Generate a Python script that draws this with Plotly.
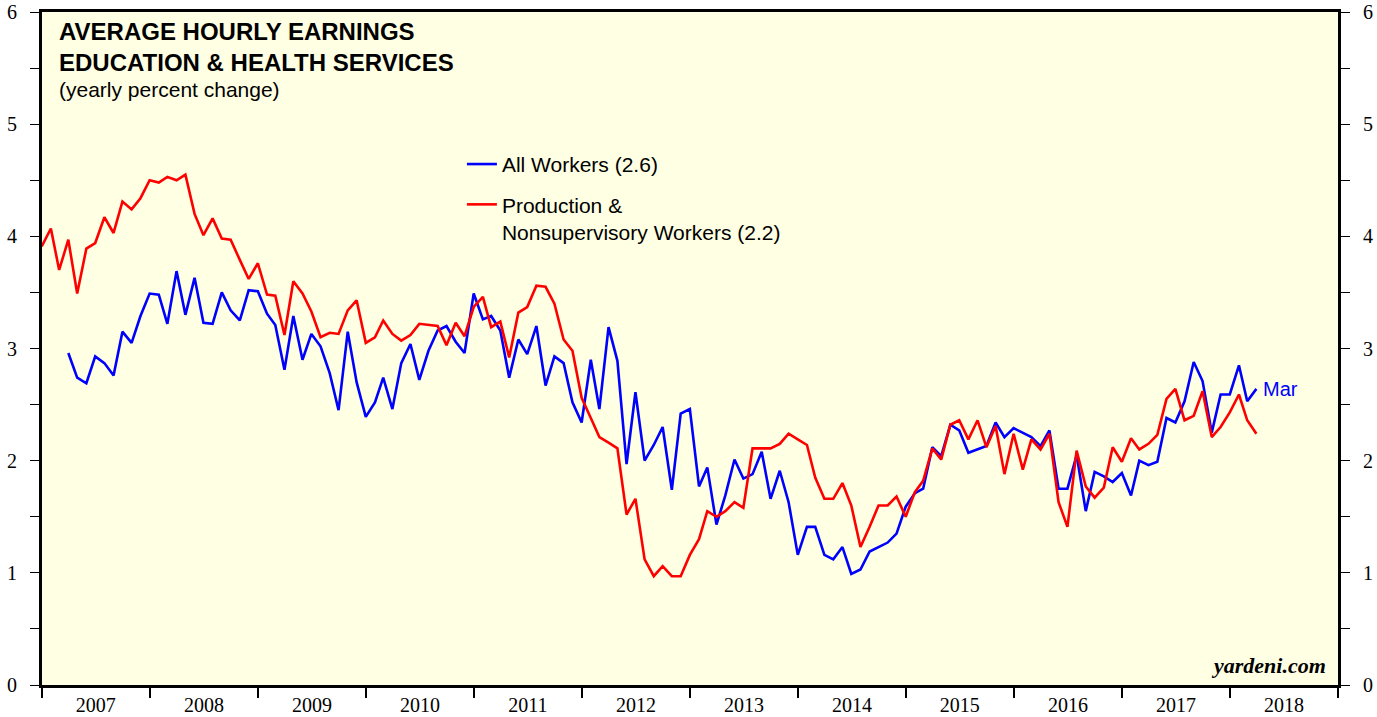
import pandas as pd
import plotly.graph_objects as go

# Monthly yearly-percent-change values
# Production & Nonsupervisory Workers: Dec 2006 .. Mar 2018
prod_workers = [
    3.91,
    4.07, 3.70, 3.97, 3.49, 3.89, 3.94, 4.17, 4.03, 4.31, 4.24, 4.34, 4.50,
    4.48, 4.53, 4.50, 4.55, 4.20, 4.01, 4.16, 3.98, 3.97, 3.79, 3.62, 3.76,
    3.48, 3.47, 3.12, 3.60, 3.49, 3.33, 3.10, 3.14, 3.13, 3.34, 3.43, 3.05,
    3.10, 3.25, 3.13, 3.07, 3.12, 3.22, 3.21, 3.20, 3.03, 3.23, 3.11, 3.37,
    3.46, 3.19, 3.24, 2.92, 3.32, 3.37, 3.56, 3.55, 3.40, 3.08, 2.98, 2.56,
    2.38, 2.21, 2.16, 2.11, 1.52, 1.66, 1.12, 0.97, 1.06, 0.97, 0.97, 1.16,
    1.30, 1.55, 1.50, 1.55, 1.63, 1.58, 2.11, 2.11, 2.11, 2.15, 2.24, 2.19,
    2.14, 1.85, 1.66, 1.66, 1.80, 1.60, 1.23, 1.41, 1.60, 1.60, 1.68, 1.50,
    1.72, 1.82, 2.11, 2.01, 2.32, 2.36, 2.19, 2.36, 2.12, 2.31, 1.88, 2.24,
    1.92, 2.19, 2.10, 2.24, 1.63, 1.41, 2.09, 1.77, 1.67, 1.76, 2.12, 1.99,
    2.20, 2.10, 2.15, 2.23, 2.55, 2.64, 2.36, 2.40, 2.62, 2.21, 2.30, 2.43,
    2.59, 2.36, 2.24,
]
prod_start = "2006-12"

# All Workers: Mar 2007 .. Mar 2018
all_workers = [
    2.96, 2.74, 2.69, 2.93, 2.87, 2.76, 3.15, 3.05, 3.29, 3.49,
    3.48, 3.22, 3.69, 3.30, 3.63, 3.23, 3.22, 3.50, 3.34, 3.25, 3.52, 3.51,
    3.31, 3.21, 2.81, 3.29, 2.90, 3.13, 3.02, 2.78, 2.45, 3.15, 2.70, 2.39,
    2.52, 2.74, 2.46, 2.87, 3.04, 2.72, 2.98, 3.16, 3.20, 3.06, 2.96, 3.49,
    3.26, 3.29, 3.16, 2.74, 3.08, 2.95, 3.20, 2.67, 2.93, 2.87, 2.52, 2.34,
    2.90, 2.46, 3.19, 2.89, 1.97, 2.61, 2.00, 2.14, 2.30, 1.74, 2.42, 2.46,
    1.77, 1.94, 1.43, 1.69, 2.01, 1.84, 1.88, 2.08, 1.66, 1.91, 1.63, 1.16,
    1.41, 1.41, 1.16, 1.12, 1.23, 0.99, 1.03, 1.19, 1.23, 1.27, 1.35, 1.59,
    1.71, 1.75, 2.12, 2.04, 2.32, 2.27, 2.07, 2.10, 2.13, 2.34, 2.21, 2.29,
    2.25, 2.21, 2.13, 2.27, 1.75, 1.75, 2.05, 1.55, 1.90, 1.86, 1.81, 1.89,
    1.69, 2.00, 1.96, 1.99, 2.38, 2.34, 2.53, 2.88, 2.71, 2.25, 2.59, 2.59,
    2.85, 2.53, 2.64,
]
all_start = "2007-03"

years = list(range(2007, 2019))
y_tick_vals = [0, 0.5, 1, 1.5, 2, 2.5, 3, 3.5, 4, 4.5, 5, 5.5, 6]
y_tick_text = ["0", "", "1", "", "2", "", "3", "", "4", "", "5", "", "6"]
last_month_label = "Mar"

# monthly observations plotted at month end
prod_dates = pd.date_range(pd.Period(prod_start, "M").end_time.normalize(), periods=len(prod_workers), freq="ME")
all_dates = pd.date_range(pd.Period(all_start, "M").end_time.normalize(), periods=len(all_workers), freq="ME")
year_starts = [f"{y}-01-01" for y in years] + [f"{years[-1] + 1}-01-01"]
year_mids = [f"{y}-07-02" for y in years]
x_range = [year_starts[0], year_starts[-1]]

BLUE = "#0000FF"
RED = "#FF0000"
SANS = "Liberation Sans, Arial, Helvetica, sans-serif"
SERIF = "Liberation Serif, Times New Roman, serif"

fig = go.Figure()
fig.add_trace(go.Scatter(
    x=all_dates, y=all_workers, mode="lines",
    name=f"All Workers ({all_workers[-1]:.1f})",
    line=dict(color=BLUE, width=2.6), legendgroup="a",
))
fig.add_trace(go.Scatter(
    x=prod_dates, y=prod_workers, mode="lines", xaxis="x2", yaxis="y2",
    name=f"Production &<br>Nonsupervisory Workers ({prod_workers[-1]:.1f})",
    line=dict(color=RED, width=2.6), legendgroup="b",
))

axis_common = dict(
    range=[0, 6], tickmode="array", tickvals=y_tick_vals, ticktext=y_tick_text,
    ticks="outside", ticklen=9, tickwidth=1.2, tickcolor="black",
    showgrid=False, zeroline=False, showline=True, linewidth=3, linecolor="black",
    tickfont=dict(family=SERIF, size=20, color="black"), automargin=False,
    ticklabelstandoff=9,
)

fig.update_layout(
    width=1377, height=717,
    margin=dict(l=42, r=39, t=12, b=32, autoexpand=False),
    paper_bgcolor="white",
    plot_bgcolor="#FFFFE3",
    showlegend=True,
    legend=dict(
        x=0.324, y=0.804, xanchor="left", yanchor="top",
        bgcolor="rgba(0,0,0,0)", borderwidth=0,
        font=dict(family=SANS, size=21, color="black"),
        valign="top", traceorder="grouped", tracegroupgap=10,
    ),
    # year boundary ticks
    xaxis=dict(
        type="date", range=x_range, tickmode="array", tickvals=year_starts,
        showticklabels=False,
        ticks="outside", ticklen=10, tickwidth=2, tickcolor="black",
        showgrid=False, zeroline=False, showline=True, linewidth=3, linecolor="black",
        mirror=True, automargin=False,
    ),
    # year labels centred in each year
    xaxis2=dict(
        type="date", range=x_range, overlaying="x", anchor="y2", side="bottom",
        tickmode="array", tickvals=year_mids, ticktext=[str(y) for y in years],
        ticks="", showgrid=False, zeroline=False, showline=False,
        automargin=False, ticklabelstandoff=6,
        tickfont=dict(family=SERIF, size=20, color="black"),
    ),
    yaxis=dict(side="left", **axis_common),
    yaxis2=dict(side="right", overlaying="y", anchor="x2", **axis_common),
)

# title block
fig.add_annotation(xref="paper", yref="paper", x=0.0115, y=0.994, xanchor="left", yanchor="top",
                   text="<b>AVERAGE HOURLY EARNINGS<br>EDUCATION &amp; HEALTH SERVICES</b>",
                   align="left", showarrow=False,
                   font=dict(family=SANS, size=24, color="black"))
fig.add_annotation(xref="paper", yref="paper", x=0.0115, y=0.885, xanchor="left", yanchor="middle",
                   text="(yearly percent change)", showarrow=False,
                   font=dict(family=SANS, size=21, color="black"))

# last-month label
fig.add_annotation(x=all_dates[-1], y=all_workers[-1], xref="x", yref="y",
                   text=last_month_label, showarrow=False, xanchor="left", yanchor="middle",
                   xshift=5, font=dict(family=SANS, size=20, color=BLUE))

# source
fig.add_annotation(xref="paper", yref="paper", x=0.992, y=0.008, xanchor="right", yanchor="bottom",
                   text="<b><i>yardeni.com</i></b>", showarrow=False,
                   font=dict(family=SERIF, size=22, color="black"))

fig.write_html("out.html", config={"displayModeBar": False},
               post_script="document.body.style.margin='0px';")
